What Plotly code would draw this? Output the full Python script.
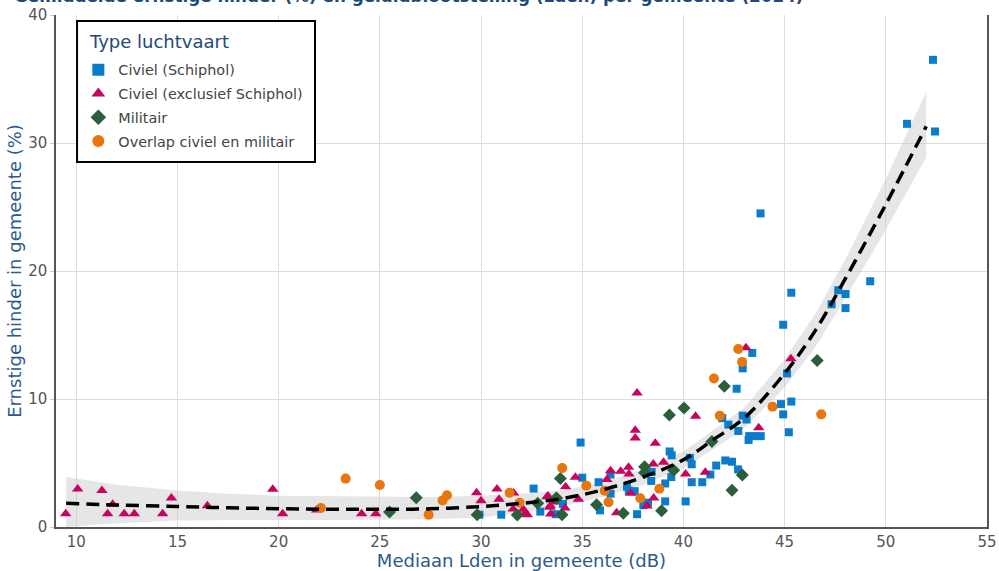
import plotly.graph_objects as go

# ---- data ----
schiphol_x = [52.33, 51.05, 52.43, 43.81, 45.33, 47.65, 48.01, 47.32, 48.01, 49.23, 44.93, 43.40, 42.93, 45.12,
              42.63, 44.82, 45.33, 44.93, 45.21, 41.92, 42.93, 43.12, 42.22, 42.71, 43.25, 43.54, 43.82, 43.22,
              34.92, 39.32, 39.42, 40.32, 40.41, 42.07, 42.40, 42.70, 41.62, 41.33, 40.41, 40.93, 40.11, 39.40,
              39.10, 39.10, 36.40, 38.43, 38.41, 37.21, 37.59, 37.30, 36.40, 35.81, 35.00, 34.05, 33.69, 35.88,
              37.71, 38.02, 38.25, 32.60, 29.92, 31.00, 32.93]
schiphol_y = [36.5, 31.5, 30.9, 24.5, 18.3, 18.5, 18.2, 17.4, 17.1, 19.2, 15.8, 13.6, 12.4, 12.0,
              10.8, 9.6, 9.8, 8.8, 7.4, 8.5, 8.7, 8.4, 8.0, 7.5, 7.1, 7.1, 7.1, 6.8,
              6.6, 5.9, 5.6, 5.4, 4.9, 5.2, 5.1, 4.5, 4.8, 4.1, 3.5, 3.5, 2.0, 3.9,
              3.4, 2.0, 4.1, 4.3, 3.6, 3.15, 2.8, 2.84, 2.6, 3.5, 3.85, 1.8, 1.0, 1.3,
              1.0, 1.7, 1.9, 3.0, 0.96, 0.96, 1.2]

civiel_x = [9.48, 10.07, 11.27, 11.80, 11.55, 12.37, 12.87, 14.27, 14.70, 16.48, 19.71, 20.20, 21.88, 24.10,
            24.80, 29.78, 30.00, 30.79, 30.89, 31.61, 31.59, 32.09, 32.19, 32.29, 33.26, 33.42, 33.60, 33.44,
            33.40, 34.15, 34.66, 34.18, 34.81, 33.31, 36.70, 38.20, 38.53, 37.39, 36.22, 36.40, 36.90, 37.29,
            37.31, 38.51, 39.02, 38.61, 37.62, 37.62, 37.71, 40.11, 41.08, 40.60, 43.09, 45.31, 43.72]
civiel_y = [1.04, 2.97, 2.86, 1.77, 1.04, 1.04, 1.04, 1.04, 2.27, 1.66, 2.94, 1.04, 1.33, 1.04,
            1.04, 2.68, 2.05, 2.97, 2.16, 2.66, 1.41, 1.38, 1.12, 0.96, 2.37, 1.66, 1.95, 1.02,
            1.54, 1.48, 3.88, 3.15, 2.16, 2.42, 1.12, 1.64, 2.27, 2.63, 3.72, 4.40, 4.35, 4.66,
            4.14, 4.92, 5.05, 6.54, 7.55, 6.95, 10.47, 4.14, 4.27, 8.65, 14.0, 13.15, 7.76]

militair_x = [25.48, 26.80, 29.81, 31.79, 32.80, 33.73, 34.00, 33.92, 33.72, 35.71, 37.03, 38.92, 38.08, 38.08,
              39.52, 40.03, 39.31, 41.41, 42.91, 42.40, 42.02, 46.61]
militair_y = [1.17, 2.29, 0.96, 0.94, 1.85, 2.24, 0.96, 3.78, 2.27, 1.74, 1.07, 1.27, 4.71, 4.24,
              4.43, 9.3, 8.75, 6.67, 4.06, 2.87, 11.0, 13.0]

overlap_x = [22.09, 23.31, 25.00, 27.41, 28.10, 28.32, 31.41, 31.91, 34.01, 35.20, 36.11, 36.30, 37.87, 38.81,
             41.51, 41.80, 42.71, 42.90, 44.40, 46.81]
overlap_y = [1.48, 3.78, 3.28, 0.96, 2.08, 2.48, 2.68, 1.90, 4.60, 3.23, 2.84, 1.93, 2.24, 2.99,
             11.6, 8.7, 13.9, 12.9, 9.4, 8.8]

trend_x = [9.5, 12, 15, 17.5, 20, 22.5, 25, 27.5, 30, 32, 34, 36, 38, 40, 41.5, 43, 45, 46.5, 48, 50, 52]
trend_y = [1.85, 1.72, 1.6, 1.5, 1.43, 1.39, 1.38, 1.42, 1.6, 1.85, 2.22, 2.9, 3.9, 5.25, 6.85, 8.5, 12.0, 15.3, 19.4, 25.2, 31.3]
band_lo = [0.0, 0.3, 0.5, 0.55, 0.55, 0.55, 0.55, 0.6, 0.75, 1.1, 1.6, 2.35, 3.3, 4.6, 6.1, 7.7, 10.9, 14.0, 17.9, 23.2, 28.9]
band_hi = [3.9, 3.3, 2.85, 2.6, 2.45, 2.4, 2.35, 2.35, 2.45, 2.6, 2.85, 3.5, 4.5, 5.9, 7.6, 9.3, 13.1, 16.6, 20.9, 27.2, 34.0]

x_ticks = [10, 15, 20, 25, 30, 35, 40, 45, 50, 55]
y_ticks = [0, 10, 20, 30, 40]

series_names = ["Civiel (Schiphol)", "Civiel (exclusief Schiphol)", "Militair", "Overlap civiel en militair"]
series_colors = ["#0a7ccb", "#c8045f", "#2b5e3a", "#e8760c"]
legend_title = "Type luchtvaart"
chart_title = "Gemiddelde ernstige hinder (%) en geluidblootstelling (Lden) per gemeente (2024)"

FONT = "Verdana, DejaVu Sans, sans-serif"

fig = go.Figure()

# confidence band
fig.add_trace(go.Scatter(x=trend_x, y=band_hi, mode="lines", line=dict(width=0),
                         showlegend=False, hoverinfo="skip"))
fig.add_trace(go.Scatter(x=trend_x, y=band_lo, mode="lines", line=dict(width=0),
                         fill="tonexty", fillcolor="rgba(200,200,200,0.45)",
                         showlegend=False, hoverinfo="skip"))

fig.add_trace(go.Scatter(x=schiphol_x, y=schiphol_y, mode="markers", name=series_names[0], legendgroup="a",
                         marker=dict(symbol="square", size=8, color=series_colors[0])))
fig.add_trace(go.Scatter(x=civiel_x, y=civiel_y, mode="markers", name=series_names[1], legendgroup="b",
                         marker=dict(symbol="triangle-up", size=10, color=series_colors[1])))
fig.add_trace(go.Scatter(x=militair_x, y=militair_y, mode="markers", name=series_names[2], legendgroup="c",
                         marker=dict(symbol="diamond", size=10, color=series_colors[2])))
fig.add_trace(go.Scatter(x=overlap_x, y=overlap_y, mode="markers", name=series_names[3], legendgroup="d",
                         marker=dict(symbol="circle", size=10, color=series_colors[3])))

# trend line
fig.add_trace(go.Scatter(x=trend_x, y=trend_y, mode="lines",
                         line=dict(color="black", width=3.5, dash="13px,7px", shape="spline"),
                         showlegend=False, hoverinfo="skip"))

# chart title (partly above the visible page, as in the reference)
fig.add_annotation(text="<b>" + chart_title + "</b>",
                   xref="paper", yref="paper", x=-0.0473, y=1.037, xanchor="left", yanchor="middle",
                   showarrow=False, font=dict(family=FONT, size=16.8, color="#1d4a7a"))

# legend frame + legend title
fig.add_shape(type="rect", xref="paper", yref="paper", x0=0.0226, x1=0.2782, y0=0.7129, y1=0.9883,
              line=dict(color="black", width=2), fillcolor="white", layer="above")
fig.add_annotation(text=legend_title, xref="paper", yref="paper", x=0.0333, y=0.9492,
                   xanchor="left", yanchor="middle", showarrow=False,
                   font=dict(family=FONT, size=18, color="#1d4a7a"))

fig.update_layout(
    width=999, height=571,
    margin=dict(l=56, r=12, t=15, b=44),
    paper_bgcolor="white", plot_bgcolor="white",
    font=dict(family=FONT, color="#444444", size=14),
    legend=dict(x=0.024, y=0.924, xanchor="left", yanchor="top",
                borderwidth=0, bgcolor="rgba(0,0,0,0)",
                traceorder="grouped", tracegroupgap=2,
                font=dict(size=14.4, color="#444444", family=FONT),
                itemsizing="constant"),
)
fig.update_xaxes(range=[9, 55], tickvals=x_ticks, showgrid=True, gridcolor="#dddddd", automargin=False,
                 showline=True, linecolor="#555555", linewidth=1.5, ticks="",
                 zeroline=False, tickfont=dict(size=15, color="#555555"),
                 title=dict(text="Mediaan Lden in gemeente (dB)", font=dict(size=18, color="#2a5b8c"), standoff=2))
fig.update_yaxes(range=[0, 40], tickvals=y_ticks, showgrid=True, gridcolor="#dddddd", automargin=False,
                 showline=True, linecolor="#555555", linewidth=1.5, mirror=True, ticks="outside", ticklen=4,
                 tickcolor="#cccccc", zeroline=False, tickfont=dict(size=15, color="#555555"),
                 title=dict(text="Ernstige hinder in gemeente (%)", font=dict(size=18, color="#2a5b8c"), standoff=2))

fig.write_html("out.html", config={"displayModeBar": False},
               post_script="document.body.style.margin='0';")
